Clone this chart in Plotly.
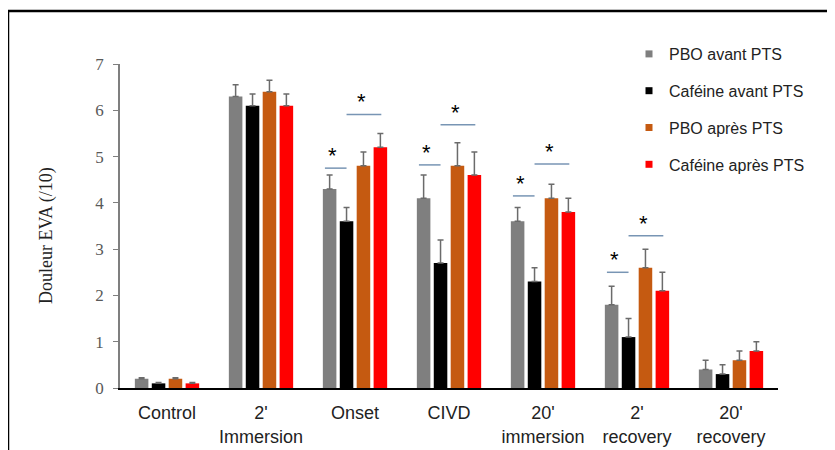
import plotly.graph_objects as go

categories = ["Control", "2'<br>Immersion", "Onset", "CIVD", "20'<br>immersion", "2'<br>recovery", "20'<br>recovery"]
series_names = ["PBO avant PTS", "Caféine avant PTS", "PBO après PTS", "Caféine après PTS"]
pbo_avant = [0.2, 6.3, 4.3, 4.1, 3.6, 1.8, 0.4]
caf_avant = [0.1, 6.1, 3.6, 2.7, 2.3, 1.1, 0.3]
pbo_apres = [0.2, 6.4, 4.8, 4.8, 4.1, 2.6, 0.6]
caf_apres = [0.1, 6.1, 5.2, 4.6, 3.8, 2.1, 0.8]
err_pbo_avant = [0.02, 0.25, 0.3, 0.5, 0.3, 0.4, 0.2]
err_caf_avant = [0.02, 0.25, 0.3, 0.5, 0.3, 0.4, 0.2]
err_pbo_apres = [0.02, 0.25, 0.3, 0.5, 0.3, 0.4, 0.2]
err_caf_apres = [0.02, 0.25, 0.3, 0.5, 0.3, 0.4, 0.2]
colors = ["#7f7f7f", "#000000", "#c55a11", "#ff0000"]

# significance brackets: (category index, y of line 1, y of line 2)
sig_cats = [2, 3, 4, 5]
sig_y1 = [4.75, 4.82, 4.15, 2.50]
sig_y2 = [5.91, 5.69, 4.84, 3.29]

values = [pbo_avant, caf_avant, pbo_apres, caf_apres]
errors = [err_pbo_avant, err_caf_avant, err_pbo_apres, err_caf_apres]
xpos = list(range(len(categories)))

fig = go.Figure()
for name, vals, errs, col in zip(series_names, values, errors, colors):
    fig.add_trace(go.Bar(
        x=xpos, y=vals, name=name, marker=dict(color=col, line=dict(width=0)),
        error_y=dict(type="data", array=errs, arrayminus=[0] * len(errs), symmetric=False,
                     color="#6b6b6b", thickness=1.5, width=3),
        showlegend=False,
    ))
for i, (name, col) in enumerate(zip(series_names, colors)):
    fig.add_trace(go.Scatter(
        x=[None], y=[None], mode="markers", name=name, legendgroup=f"g{i}",
        marker=dict(symbol="square", size=7, color=col),
    ))

bargap = 0.28
line_color = "#7895b4"
for c, y1, y2 in zip(sig_cats, sig_y1, sig_y2):
    for (a, b), yy in (((-0.32, -0.09), y1), ((-0.09, 0.28), y2)):
        fig.add_shape(type="line", xref="x", yref="y", x0=c + a, x1=c + b, y0=yy, y1=yy,
                      line=dict(color=line_color, width=1.5))
        fig.add_annotation(x=c + (a + b) / 2 - 0.03, y=yy, xref="x", yref="y", text="*",
                           showarrow=False, yanchor="bottom", yshift=-2,
                           font=dict(family="Liberation Sans, Arial", size=22, color="#000000"))

# page body has an 8px offset; figure coordinates below are relative to the figure
FW, FH = 827, 442
L, R, T, B = 112, 57, 56, 62
W, H = FW - L - R, FH - T - B
def px_x(p):
    return (p - L) / W
def px_y(p):
    return (FH - B - p) / H
fig.add_shape(type="rect", xref="paper", yref="paper", x0=px_x(0), x1=px_x(900), y0=px_y(520), y1=px_y(3),
              line=dict(color="#000000", width=2.5), fillcolor="rgba(0,0,0,0)")

fig.add_annotation(x=px_x(38), y=px_y(228), xref="paper", yref="paper", text="Douleur EVA (/10)",
                   textangle=-90, showarrow=False, xanchor="center", yanchor="middle",
                   font=dict(family="Liberation Serif, Times New Roman", size=18, color="#222222"))

fig.update_layout(
    width=FW, height=FH,
    margin=dict(l=L, r=R, t=T, b=B, autoexpand=False),
    paper_bgcolor="white", plot_bgcolor="white",
    barmode="group", bargap=bargap, bargroupgap=0.2,
    legend=dict(x=px_x(621), y=px_y(29), xanchor="left", yanchor="top",
                font=dict(family="Liberation Sans, Arial", size=16, color="#222222"),
                tracegroupgap=13, bgcolor="rgba(0,0,0,0)"),
    xaxis=dict(range=[-0.5, 6.5], tickmode="array", tickvals=xpos, ticktext=categories,
               showline=True, linecolor="#000000", linewidth=1.5, ticks="", showgrid=False,
               zeroline=False, ticklabelstandoff=8,
               tickfont=dict(family="Liberation Sans, Arial", size=18, color="#222222")),
    yaxis=dict(range=[0, 7], dtick=1, showline=True, linecolor="#7f7f7f", linewidth=1.5,
               ticks="outside", ticklen=5, tickcolor="#7f7f7f", showgrid=False, zeroline=False,
               ticklabelstandoff=6,
               tickfont=dict(family="Liberation Serif, Times New Roman", size=17, color="#595959")),
)

fig.write_html("out.html")
